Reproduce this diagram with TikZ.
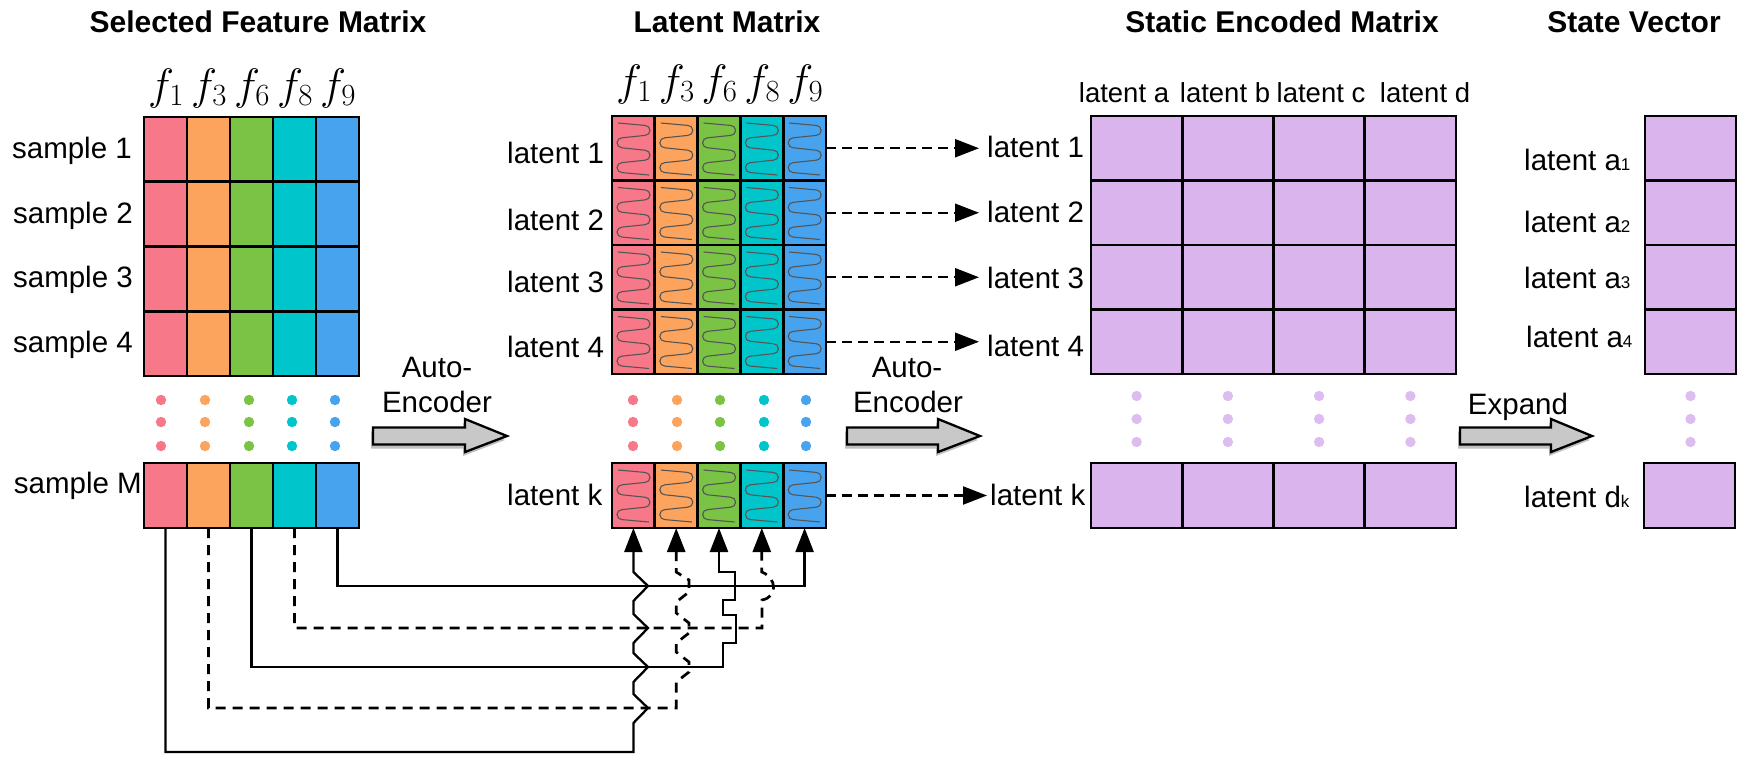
\RequirePackage{fix-cm}
\documentclass[tikz,border=0pt]{standalone}
\usepackage[no-math]{fontspec}
\setmainfont{Liberation Sans}
\usetikzlibrary{arrows.meta}

\definecolor{fpink}{HTML}{F77889}
\definecolor{forange}{HTML}{FCA35E}
\definecolor{fgreen}{HTML}{7AC344}
\definecolor{fcyan}{HTML}{00C6CB}
\definecolor{fblue}{HTML}{48A3EF}
\definecolor{lpurple}{HTML}{DAB5ED}
\definecolor{dpurple}{HTML}{DDBDF0}
\definecolor{coilgray}{HTML}{555555}
\definecolor{agray}{HTML}{C8C8C8}

\newcommand{\coilat}[2]{%
  \draw[coil] ({#1+6},{#2+7}) -- ({#1+33},{#2+9.4})
    arc[start angle=-90,end angle=90,radius=5] -- ({#1+10},{#2+21.8})
    arc[start angle=270,end angle=90,radius=5] -- ({#1+33},{#2+34.2})
    arc[start angle=-90,end angle=90,radius=5] -- ({#1+10},{#2+46.6})
    arc[start angle=270,end angle=90,radius=5] -- ({#1+37},{#2+59});
}
\newcommand{\blockarr}[4]{%
  \begin{scope}[shift={(-2,4)}]
    \fill[black,opacity=.25] (#1,{#4-8.5}) -- (#2,{#4-8.5}) -- (#2,{#4-17}) -- (#3,#4) -- (#2,{#4+16}) -- (#2,{#4+8.5}) -- (#1,{#4+8.5}) -- cycle;
  \end{scope}
  \draw[barrow] (#1,{#4-8.5}) -- (#2,{#4-8.5}) -- (#2,{#4-17}) -- (#3,#4) -- (#2,{#4+16}) -- (#2,{#4+8.5}) -- (#1,{#4+8.5}) -- cycle;
}

\begin{document}
\begin{tikzpicture}[x=1pt,y=-1pt,
  cell/.style={draw=black, line width=2.8pt, inner sep=0pt, outer sep=0pt, anchor=north west},
  coil/.style={draw=coilgray, line width=1.1pt},
  lab/.style={font=\fontsize{29.5}{32}\selectfont, inner sep=0pt, anchor=base west},
  hdr/.style={font=\fontsize{27.5}{30}\selectfont, inner sep=0pt, anchor=base},
  ttl/.style={font=\fontsize{30}{32}\selectfont\bfseries, inner sep=0pt, anchor=base},
  flab/.style={font=\fontsize{44}{48}\selectfont, inner sep=0pt, anchor=base},
  wire/.style={line width=2.3pt},
  dsh/.style={line width=2.7pt, dash pattern=on 10pt off 7pt},
  tipup/.style={-{Triangle[length=24pt,width=18pt]}},
  rarrow/.style={line width=2.2pt, dash pattern=on 10pt off 6pt, -{Triangle[length=24pt,width=18pt]}},
  barrow/.style={draw=black, fill=agray, line width=2.3pt, line join=miter}]
\useasboundingbox (0,0) rectangle (1748,756);

% titles
\node[ttl] (t1) at (258,32) {Selected Feature Matrix};
\node[ttl] (t2) at (727,32) {Latent Matrix};
\node[ttl] (t3) at (1282,32) {Static Encoded Matrix};
\node[ttl] (t4) at (1634,32) {State Vector};

% selected feature matrix
\foreach \c/\col in {1/fpink,2/forange,3/fgreen,4/fcyan,5/fblue}{
  \foreach \r/\y in {1/117,2/181.75,3/246.5,4/311.25}{
    \node[cell, fill=\col, minimum width=43pt, minimum height=64.75pt] (s\r-\c) at ({144+(\c-1)*43},\y) {};
  }
  \node[cell, fill=\col, minimum width=43pt, minimum height=65pt] (sM-\c) at ({144+(\c-1)*43},463) {};
}
\foreach \c/\n in {1/1,2/3,3/6,4/8,5/9}
  \node[flab] (fa\c) at ({166+(\c-1)*43},99) {$f_{\n}$};
\node[lab, anchor=base east] (sl1) at (132,158) {sample 1};
\node[lab, anchor=base east] (sl2) at (133,223) {sample 2};
\node[lab, anchor=base east] (sl3) at (133,287) {sample 3};
\node[lab, anchor=base east] (sl4) at (133,352) {sample 4};
\node[lab, anchor=base east] (slM) at (142,493) {sample M};
\foreach \x/\col in {161/fpink,205/forange,249/fgreen,292/fcyan,335/fblue}
  \foreach \y in {400,422,446}
    \fill[\col] (\x,\y) circle[radius=5.2];

% latent matrix
\foreach \c/\col in {1/fpink,2/forange,3/fgreen,4/fcyan,5/fblue}{
  \foreach \r/\y in {1/116,2/180.5,3/245,4/309.5}{
    \node[cell, fill=\col, minimum width=42.8pt, minimum height=64.5pt] (l\r-\c) at ({612+(\c-1)*42.8},\y) {};
  }
  \node[cell, fill=\col, minimum width=42.8pt, minimum height=65pt] (lk-\c) at ({612+(\c-1)*42.8},463) {};
}
\foreach \c in {1,...,5}
  \foreach \y in {116,180.5,245,309.5,463}
    \coilat{612+(\c-1)*42.8}{\y};
\foreach \c/\n in {1/1,2/3,3/6,4/8,5/9}
  \node[flab] (fb\c) at ({634+(\c-1)*42.8},95) {$f_{\n}$};
\node[lab] (ll1) at (507,163) {latent 1};
\node[lab] (ll2) at (507,230) {latent 2};
\node[lab] (ll3) at (507,292) {latent 3};
\node[lab] (ll4) at (507,357) {latent 4};
\node[lab] (llk) at (507,505) {latent k};
\foreach \x/\col in {633/fpink,677/forange,720/fgreen,764/fcyan,806/fblue}
  \foreach \y in {400,422,446}
    \fill[\col] (\x,\y) circle[radius=5.2];

% middle labels and dashed arrows
\node[lab] (m1) at (987,157) {latent 1};
\node[lab] (m2) at (987,222) {latent 2};
\node[lab] (m3) at (987,288) {latent 3};
\node[lab] (m4) at (987,356) {latent 4};
\node[lab] (mk) at (990,505) {latent k};
\foreach \r in {1,2,3,4}
  \draw[rarrow, shorten >=8pt] (l\r-5.east) -- (l\r-5.east -| m\r.west);
\draw[rarrow, shorten >=3pt] (lk-5.east) -- (lk-5.east -| mk.west);

% static encoded matrix
\foreach \c in {1,...,4}{
  \foreach \r/\y in {1/116,2/180.5,3/245,4/309.5}{
    \node[cell, fill=lpurple, minimum width=91.25pt, minimum height=64.5pt] (e\r-\c) at ({1091+(\c-1)*91.25},\y) {};
  }
  \node[cell, fill=lpurple, minimum width=91.25pt, minimum height=65pt] (ek-\c) at ({1091+(\c-1)*91.25},463) {};
}
\node[hdr] (ha) at (1124,102) {latent a};
\node[hdr] (hb) at (1225,102) {latent b};
\node[hdr] (hc) at (1321,102) {latent c};
\node[hdr] (hd) at (1425,102) {latent d};
\foreach \x in {1136.6,1227.9,1319.1,1410.4}
  \foreach \y in {396,419,442}
    \fill[dpurple] (\x,\y) circle[radius=5.2];

% state vector
\foreach \r/\y in {1/116,2/180.5,3/245,4/309.5}
  \node[cell, fill=lpurple, minimum width=91pt, minimum height=64.5pt] (v\r) at (1645,\y) {};
\node[cell, fill=lpurple, minimum width=91pt, minimum height=65pt] (vk) at (1644,463) {};
\node[lab] (va1) at (1524,170) {latent a{\fontsize{17}{17}\selectfont 1}};
\node[lab] (va2) at (1524,232) {latent a{\fontsize{17}{17}\selectfont 2}};
\node[lab] (va3) at (1524,288) {latent a{\fontsize{17}{17}\selectfont 3}};
\node[lab] (va4) at (1526,347) {latent a{\fontsize{17}{17}\selectfont 4}};
\node[lab] (vdk) at (1524,507) {latent d{\fontsize{17}{17}\selectfont k}};
\foreach \y in {396,419,442}
  \fill[dpurple] (1690.5,\y) circle[radius=5.2];

% block arrows
\node[lab, anchor=base] (ae1a) at (437,377) {Auto-};
\node[lab, anchor=base] (ae1b) at (437,412) {Encoder};
\node[lab, anchor=base] (ae2a) at (907,377) {Auto-};
\node[lab, anchor=base] (ae2b) at (908,412) {Encoder};
\node[lab, anchor=base] (exp) at (1518,414) {Expand};
\blockarr{373}{465}{507}{436}
\blockarr{847}{938}{980}{436}
\blockarr{1460}{1551}{1592}{436}

% wiring from sample M to latent k
\draw[wire, tipup] (sM-1.south) |- (633.4,752) -- (633.4,723) -- (648,708) -- (633.4,694)
  -- (633.4,682) -- (648,667) -- (633.4,653) -- (633.4,643) -- (648,628) -- (633.4,614)
  -- (633.4,601) -- (648,586) -- (633.4,572) -- (lk-1.south);
\draw[wire, dsh, tipup] (sM-2.south) |- (676.2,708) -- (676.2,682) -- (689,672) -- (689,662)
  -- (676.2,652) -- (676.2,643) -- (689,633) -- (689,623) -- (676.2,613) -- (676.2,602)
  -- (689,592) -- (689,580) -- (676.2,572) -- (lk-2.south);
\draw[wire, tipup] (sM-3.south) |- (723,667) -- (723,643) -- (736,643) -- (736,615) -- (723,615)
  -- (723,600) -- (735,600) -- (735,572) -- (719,572) -- (lk-3.south);
\draw[wire, dsh, tipup] (sM-4.south) |- (762,628) -- (762,600) .. controls (778,597) and (777,578) .. (761.8,572) -- (lk-4.south);
\draw[wire, tipup] (sM-5.south) |- (lk-5.south |- 0,586) -- (lk-5.south);
\end{tikzpicture}
\end{document}
